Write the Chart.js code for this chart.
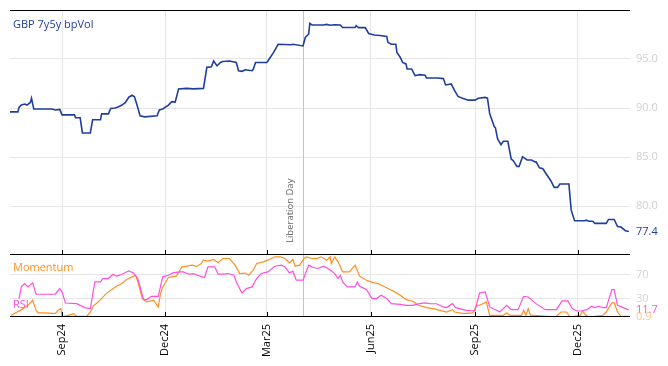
<!DOCTYPE html>
<html>
<head>
    <meta charset="utf-8" />
    <title>GBP 7y5y bpVol</title>
    <script src="https://cdn.jsdelivr.net/npm/chart.js@4.4.1/dist/chart.umd.min.js"></script>
    <style>
      body { margin: 0; background: #fff; }
      #wrap { position: relative; width: 668px; height: 366px; }
      #volChart { position: absolute; left: 0; top: 0; }
      #oscChart { position: absolute; left: 0; top: 245px; }
    </style>
</head>
<body>
  <div id='wrap'>
    <canvas id='volChart' width='668' height='256'></canvas>
    <canvas id='oscChart' width='668' height='121'></canvas>
  </div>
  <script>
    // x values are days counted from 2024-07-17
    const tickDays = [46, 137, 227, 319, 411, 502];
    const tickLabels = ['Sep24', 'Dec24', 'Mar25', 'Jun25', 'Sep25', 'Dec25'];
    const axisEnd = 548;
    const eventDay = 259;
    const eventLabel = 'Liberation Day';

    const volTicks = [80, 85, 90, 95];
    const oscTicks = [30, 70];

    const volDays = [0, 7, 8, 10, 13, 15, 18, 19, 21, 37, 40, 44, 46, 57, 58, 62, 64, 71, 73, 80,
      81, 87, 89, 93, 96, 99, 102, 105, 108, 110, 112, 115, 119, 130, 132, 135, 140, 143, 146, 149,
      156, 162, 171, 174, 178, 180, 183, 186, 188, 194, 200, 202, 205, 208, 214, 215, 217, 227, 230, 233,
      237, 249, 250, 259, 261, 264, 265, 267, 277, 280, 283, 287, 292, 294, 305, 306, 308, 314, 317, 322,
      327, 333, 334, 337, 341, 342, 345, 347, 350, 351, 355, 358, 362, 367, 368, 378, 383, 385, 390, 393,
      396, 400, 405, 411, 414, 420, 422, 424, 428, 429, 431, 434, 436, 440, 443, 445, 448, 450, 453, 457,
      461, 464, 465, 468, 471, 474, 478, 481, 484, 486, 494, 496, 499, 508, 509, 512, 515, 517, 527, 529,
      534, 537, 540, 544, 547];
    const volValues = [89.6, 89.6, 90.06, 90.3, 90.4, 90.3, 90.57, 91.0, 89.9, 89.9, 89.8, 89.85, 89.3, 89.3, 89.0, 89.0, 87.45, 87.45, 88.8, 88.8,
      89.4, 89.4, 89.96, 90.0, 90.13, 90.3, 90.57, 91.1, 91.3, 91.15, 90.4, 89.2, 89.1, 89.2, 89.8, 89.9, 90.3, 90.65, 90.6, 91.94,
      92.0, 91.95, 92.0, 94.15, 94.2, 94.8, 94.3, 94.65, 94.75, 94.8, 94.65, 93.8, 93.74, 93.9, 93.8, 93.95, 94.65, 94.65, 95.16, 95.67,
      96.5, 96.46, 96.5, 96.33, 97.2, 97.55, 98.63, 98.47, 98.47, 98.53, 98.45, 98.5, 98.47, 98.22, 98.22, 98.4, 98.2, 98.2, 97.6, 97.45,
      97.4, 97.3, 96.7, 96.5, 96.5, 95.67, 95.16, 94.65, 94.5, 93.98, 93.98, 93.3, 93.4, 93.35, 93.06, 93.06, 93.0, 92.35, 92.45, 91.77,
      91.18, 91.0, 90.8, 90.8, 91.0, 91.08, 91.0, 89.4, 88.1, 88.0, 86.84, 86.25, 86.6, 86.6, 84.8, 84.6, 84.04, 84.04, 85.03, 84.7,
      84.7, 84.5, 84.5, 83.9, 83.8, 83.27, 82.58, 81.9, 81.9, 82.24, 82.24, 79.6, 78.5, 78.5, 78.55, 78.45, 78.45, 78.23, 78.23, 78.63,
      78.63, 77.9, 77.85, 77.48, 77.4];

    const rsiDays = [8, 10, 13, 16, 20, 23, 35, 40, 44, 46, 49, 59, 66, 71, 75, 80, 82, 87, 91, 94,
      99, 105, 109, 113, 118, 121, 125, 131, 135, 140, 144, 150, 153, 158, 162, 168, 172, 175, 181, 184,
      188, 193, 198, 200, 205, 209, 214, 218, 222, 228, 234, 240, 243, 247, 250, 253, 259, 264, 268, 272,
      277, 281, 284, 287, 290, 292, 294, 298, 305, 307, 309, 315, 320, 324, 328, 333, 337, 345, 350, 356,
      362, 367, 371, 377, 383, 386, 391, 394, 403, 411, 415, 420, 424, 433, 439, 443, 449, 454, 458, 465,
      473, 483, 488, 493, 497, 501, 505, 510, 514, 517, 520, 524, 527, 532, 534, 537, 542, 547];
    const rsiValues = [30.6, 50, 55.6, 50, 56.7, 37.8, 37.8, 37.8, 47.2, 41.7, 23.3, 22.2, 15.6, 13.9, 58.3, 58.3, 63.9, 63.9, 71.1, 67.8,
      71.1, 76.7, 73.3, 63.9, 28.9, 28.9, 34.4, 34.4, 66.7, 69.4, 73.3, 75, 75, 71.1, 72, 67.8, 65.6, 83.3, 83.3, 71.1,
      71.1, 72.2, 69.4, 58.3, 40, 47.2, 50, 63.9, 72.2, 75, 84.4, 86.1, 83.3, 73.3, 76.1, 61.1, 61.1, 86.1, 82.2, 80.6,
      84.4, 80.6, 76.7, 72.2, 63.9, 69.4, 58.3, 50, 50, 58.3, 51.1, 45.6, 30.6, 30.6, 36.1, 30.6, 22.2, 21.1, 19.4, 19.4,
      22.2, 23.3, 22.2, 22, 16.7, 15.6, 22.2, 15.6, 11.1, 10, 40, 41.7, 16.7, 8.3, 19.4, 12.2, 12.2, 34.4, 33.3, 22.2,
      12.2, 12.2, 26.7, 26.7, 13.9, 10, 10, 12.2, 17.8, 15.6, 17.8, 15.6, 15.6, 45.6, 45.6, 19.4, 15.6, 11.7];

    const momDays = [1, 9, 16, 20, 23, 25, 29, 35, 40, 43, 45, 46, 50, 56, 59, 68, 71, 74, 77, 80,
      85, 90, 94, 99, 103, 108, 111, 113, 117, 121, 127, 131, 133, 135, 140, 143, 147, 152, 156, 161,
      165, 169, 171, 175, 180, 184, 188, 194, 199, 203, 208, 211, 215, 218, 224, 228, 234, 239, 243, 247,
      250, 252, 256, 260, 262, 267, 271, 275, 280, 283, 284, 287, 290, 294, 300, 305, 309, 315, 321, 325,
      330, 336, 340, 345, 350, 356, 361, 368, 374, 380, 386, 391, 393, 401, 409, 412, 417, 421, 424, 436,
      439, 442, 452, 454, 456, 458, 460, 464, 482, 487, 492, 495, 504, 506, 509, 512, 524, 527, 532, 534,
      537, 540, 547];
    const momValues = [2.8, 11, 19.4, 27.8, 11.1, 6.7, 7, 6.5, 5.6, 12.2, 13.9, 1.1, 2, 5.6, 1.1, 1.5, 8.3, 19.4, 23.3, 28.9,
      38.9, 45.6, 51.1, 55.6, 62.2, 66.7, 69.4, 58.3, 30.6, 25, 27.8, 16.7, 38.9, 50, 65.6, 66.7, 67.8, 83.3, 84.4, 86.1,
      84, 88.9, 94.4, 93, 95.6, 90, 97.2, 97.2, 86.1, 72.2, 73, 69.4, 77.8, 88.9, 91.7, 94.4, 100, 100, 97.2, 90,
      95.6, 84.4, 86.1, 97.2, 100, 97.2, 97, 100, 94.4, 100, 88.9, 100, 91.7, 75, 75, 86.1, 67.8, 61.1, 57.2, 55.6,
      51.1, 45.6, 41.7, 36.1, 28.9, 26.1, 19.4, 15.6, 13.9, 11.1, 8.3, 12.2, 8.3, 5.6, 6.7, 17.8, 21.1, 25, 2.8, 2.8,
      6.7, 2.8, 2.8, 11.1, 3, 13.9, 3, 2.8, 0, 8.3, 8.3, 0, 2.8, 10, 3, 0, 2.8, 8.3, 23.3, 23.3,
      8.3, 1.1, 0.9];

    const blue = '#1f3f9f';
    const orange = '#ff8f24';
    const pink = '#ff4fdc';
    const gridColor = '#e6e6e6';

    Chart.defaults.font.family = "'Open Sans', sans-serif";

    function points(days, values) {
      return days.map((d, i) => ({ x: d, y: values[i] }));
    }
    function last(arr) { return arr[arr.length - 1]; }

    // borders, inner tick marks, event line and the text inside the panels
    const panelFrame = {
      id: 'panelFrame',
      beforeDatasetsDraw(chart) {
        const { ctx, chartArea: a, scales: { x } } = chart;
        const px = Math.round(x.getPixelForValue(eventDay)) + 0.5;
        ctx.save();
        ctx.strokeStyle = '#c4c4c4';
        ctx.lineWidth = 1;
        ctx.beginPath();
        ctx.moveTo(px, a.top);
        ctx.lineTo(px, a.bottom);
        ctx.stroke();
        ctx.restore();
      },
      afterDatasetsDraw(chart, args, opts) {
        const { ctx, chartArea: a, scales: { x, y } } = chart;
        ctx.save();
        ctx.strokeStyle = '#000';
        ctx.lineWidth = 1;
        ctx.beginPath();
        if (opts.topBorder) {
          ctx.moveTo(a.left, a.top + 0.5);
          ctx.lineTo(a.right, a.top + 0.5);
        }
        ctx.moveTo(a.left, a.bottom - 0.5);
        ctx.lineTo(a.right, a.bottom - 0.5);
        tickDays.forEach(d => {
          const px = Math.round(x.getPixelForValue(d)) + 0.5;
          ctx.moveTo(px, a.bottom - 5);
          ctx.lineTo(px, a.bottom);
        });
        ctx.stroke();

        ctx.font = "11px 'Open Sans'";
        ctx.textBaseline = 'middle';
        ctx.textAlign = 'left';
        (opts.names || []).forEach(n => {
          ctx.fillStyle = n.color;
          ctx.fillText(n.text, a.left + 3, a.top + n.dy);
        });
        (opts.lastValues || []).forEach(l => {
          ctx.fillStyle = l.color;
          ctx.fillText(l.value.toFixed(1), a.right + 6, y.getPixelForValue(l.value));
        });
        if (opts.eventText) {
          const px = x.getPixelForValue(eventDay);
          ctx.translate(px - 13, a.bottom - 12);
          ctx.rotate(-Math.PI / 2);
          ctx.font = "9.5px 'Open Sans'";
          ctx.fillStyle = '#666';
          ctx.fillText(eventLabel, 0, 0);
        }
        ctx.restore();
      }
    };

    // no extra room for labels hanging over the plot edges
    function noOverhang(s) {
      s.paddingTop = 0;
      s.paddingBottom = 0;
      s.paddingLeft = 0;
      s.paddingRight = 0;
    }

    function xScale(showLabels) {
      return {
        type: 'linear',
        min: 0,
        max: axisEnd,
        afterBuildTicks: s => { s.ticks = tickDays.map(v => ({ value: v })); },
        afterFit: s => { s.height = showLabels ? 49 : 1; noOverhang(s); },
        ticks: {
          display: showLabels,
          autoSkip: false,
          minRotation: 90,
          maxRotation: 90,
          padding: 7,
          color: '#000',
          font: { size: 11 },
          callback: v => tickLabels[tickDays.indexOf(v)]
        },
        grid: { color: gridColor, drawTicks: false },
        border: { display: false }
      };
    }

    new Chart(document.getElementById('volChart'), {
      type: 'line',
      data: {
        datasets: [{
          label: 'GBP 7y5y bpVol',
          data: points(volDays, volValues),
          borderColor: blue,
          borderWidth: 1.6,
          pointRadius: 0,
          tension: 0
        }]
      },
      options: {
        responsive: false,
        animation: false,
        layout: { padding: { left: 10, top: 10 } },
        plugins: {
          legend: { display: false },
          tooltip: { enabled: false },
          panelFrame: {
            topBorder: true,
            names: [{ text: 'GBP 7y5y bpVol', color: blue, dy: 15 }],
            lastValues: [{ value: last(volValues), color: blue }],
            eventText: true
          }
        },
        scales: {
          x: xScale(false),
          y: {
            position: 'right',
            min: 75,
            max: 100,
            afterBuildTicks: s => { s.ticks = volTicks.map(v => ({ value: v })); },
            afterFit: s => { s.width = 38; noOverhang(s); },
            ticks: { color: '#cfcfcf', font: { size: 11 }, padding: 6, callback: v => v.toFixed(1) },
            grid: { color: gridColor, drawTicks: false },
            border: { display: false }
          }
        }
      },
      plugins: [panelFrame]
    });

    new Chart(document.getElementById('oscChart'), {
      type: 'line',
      data: {
        datasets: [{
          label: 'RSI',
          data: points(rsiDays, rsiValues),
          borderColor: pink,
          borderWidth: 1.2,
          pointRadius: 0,
          tension: 0
        }, {
          label: 'Momentum',
          data: points(momDays, momValues),
          borderColor: orange,
          borderWidth: 1.2,
          pointRadius: 0,
          tension: 0
        }]
      },
      options: {
        responsive: false,
        animation: false,
        layout: { padding: { left: 10, top: 10 } },
        plugins: {
          legend: { display: false },
          tooltip: { enabled: false },
          panelFrame: {
            topBorder: false,
            names: [
              { text: 'Momentum', color: orange, dy: 13 },
              { text: 'RSI', color: pink, dy: 50 }
            ],
            lastValues: [
              { value: last(rsiValues), color: pink },
              { value: last(momValues), color: 'rgba(255,150,50,0.55)' }
            ]
          }
        },
        scales: {
          x: xScale(true),
          y: {
            position: 'right',
            min: 0,
            max: 103,
            afterBuildTicks: s => { s.ticks = oscTicks.map(v => ({ value: v })); },
            afterFit: s => { s.width = 38; noOverhang(s); },
            ticks: { color: '#d4d4d4', font: { size: 11 }, padding: 6 },
            grid: { color: gridColor, drawTicks: false },
            border: { display: false }
          }
        }
      },
      plugins: [panelFrame]
    });
  </script>
</body>
</html>
